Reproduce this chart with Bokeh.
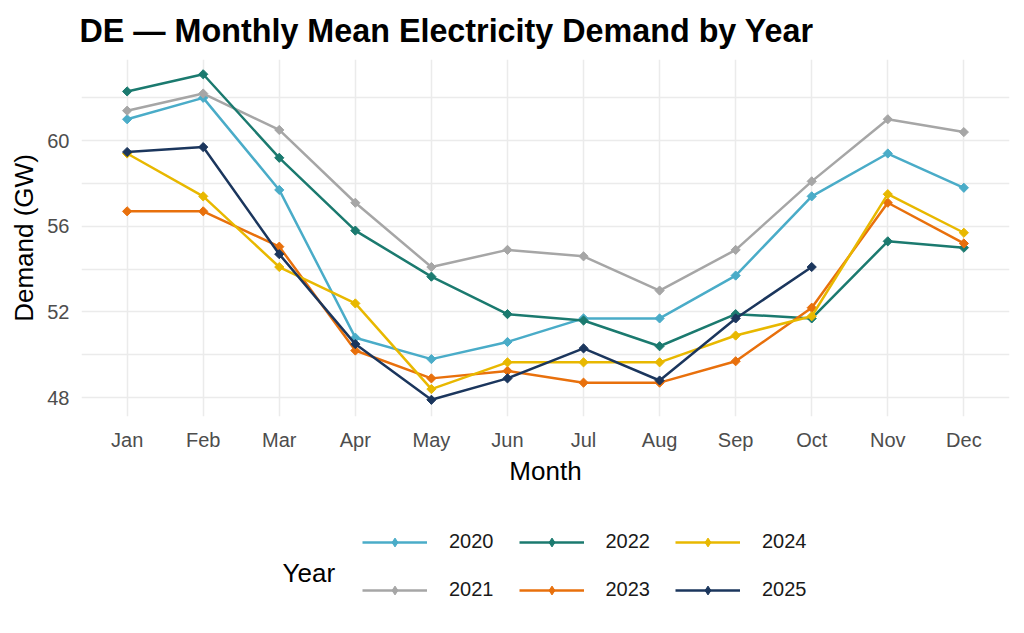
import math
from bokeh.plotting import figure
from bokeh.layouts import column
from bokeh.models import Range1d, FixedTicker, Legend, LegendItem, Label
from bokeh.embed import file_html
from bokeh.resources import INLINE

months = ["Jan", "Feb", "Mar", "Apr", "May", "Jun", "Jul", "Aug", "Sep", "Oct", "Nov", "Dec"]
years = ["2020", "2021", "2022", "2023", "2024", "2025"]

demand_2020 = [61.0, 62.0, 57.7, 50.8, 49.8, 50.6, 51.7, 51.7, 53.7, 57.4, 59.4, 57.8]
demand_2021 = [61.4, 62.2, 60.5, 57.1, 54.1, 54.9, 54.6, 53.0, 54.9, 58.1, 61.0, 60.4]
demand_2022 = [62.3, 63.1, 59.2, 55.8, 53.65, 51.9, 51.6, 50.4, 51.9, 51.7, 55.3, 55.0]
demand_2023 = [56.7, 56.7, 55.05, 50.2, 48.9, 49.25, 48.7, 48.7, 49.7, 52.2, 57.1, 55.2]
demand_2024 = [59.4, 57.4, 54.1, 52.4, 48.4, 49.65, 49.65, 49.65, 50.9, 51.8, 57.5, 55.7]
demand_2025 = [59.47, 59.7, 54.7, 50.5, 47.9, 48.9, 50.3, 48.8, 51.7, 54.1]

series = {
    "2020": demand_2020,
    "2021": demand_2021,
    "2022": demand_2022,
    "2023": demand_2023,
    "2024": demand_2024,
    "2025": demand_2025,
}
colors = {
    "2020": "#4AACC8",
    "2021": "#A6A6A6",
    "2022": "#1B7A6F",
    "2023": "#E8700C",
    "2024": "#E8B800",
    "2025": "#1B365D",
}

y_ticks = [48, 52, 56, 60]
y_minor = [50, 54, 58, 62]

FONT = "Liberation Sans"
GRID = "#EBEBEB"

month_pos = list(range(len(months)))

# ---------------- main chart ----------------
p = figure(
    x_range=Range1d(-0.6, len(months) - 1 + 0.6),
    y_range=Range1d(47.12, 63.79),
    width=1024, height=500,
    min_border_left=81, min_border_right=15, min_border_top=58, min_border_bottom=84,
    output_backend="svg", toolbar_location=None,
)
p.outline_line_color = None
p.background_fill_color = "white"
p.border_fill_color = "white"

p.title.text = "DE — Monthly Mean Electricity Demand by Year"
p.title.text_font = FONT
p.title.text_font_size = "32.3px"
p.title.text_font_style = "bold"
p.title.text_color = "black"
p.title.align = "left"
p.title.offset = -2
p.title.standoff = 21

yt = FixedTicker(ticks=y_ticks, minor_ticks=y_minor)
p.yaxis.ticker = yt
p.ygrid.ticker = yt
xt = FixedTicker(ticks=month_pos, minor_ticks=[])
p.xaxis.ticker = xt
p.xgrid.ticker = xt
p.xaxis.major_label_overrides = {i: m for i, m in enumerate(months)}

for ax in (p.xaxis, p.yaxis):
    ax.axis_line_color = None
    ax.major_tick_line_color = None
    ax.minor_tick_line_color = None
    ax.major_tick_out = 0
    ax.major_tick_in = 0
    ax.minor_tick_out = 0
    ax.minor_tick_in = 0
    ax.major_label_text_font = FONT
    ax.major_label_text_font_size = "20px"
    ax.major_label_text_color = "#4D4D4D"
    ax.axis_label_text_font = FONT
    ax.axis_label_text_font_size = "26px"
    ax.axis_label_text_font_style = "normal"
    ax.axis_label_text_color = "black"

p.yaxis.axis_label = "Demand (GW)"
p.yaxis.major_label_standoff = 12
p.yaxis.axis_label_standoff = 5
p.xaxis.axis_label = "Month"
p.xaxis.major_label_standoff = 12
p.xaxis.axis_label_standoff = 2

p.xgrid.grid_line_color = GRID
p.xgrid.grid_line_width = 1.5
p.ygrid.grid_line_color = GRID
p.ygrid.grid_line_width = 1.5
p.ygrid.minor_grid_line_color = GRID
p.ygrid.minor_grid_line_width = 1.5

for yr in years:
    vals = series[yr]
    xs = month_pos[:len(vals)]
    c = colors[yr]
    p.line(xs, vals, line_color=c, line_width=2.5)
    p.scatter(xs, vals, marker="square", angle=math.pi / 4, size=6.5,
              fill_color=c, line_color=c)

# ---------------- legend strip ----------------
# The same series are drawn here again; they fall outside this strip's
# ranges and are only used as the legend's glyph sources.
q = figure(
    x_range=Range1d(0, 1), y_range=Range1d(0, 1),
    width=1024, height=133, min_border=0,
    x_axis_location=None, y_axis_location=None,
    output_backend="svg", toolbar_location=None,
)
q.outline_line_color = None
q.xgrid.visible = False
q.ygrid.visible = False
q.background_fill_color = "white"
q.border_fill_color = "white"

items = []
for yr in years:
    vals = series[yr]
    xs = month_pos[:len(vals)]
    c = colors[yr]
    lr = q.line(xs, vals, line_color=c, line_width=2.5)
    sr = q.scatter(xs, vals, marker="diamond", size=9,
                   fill_color=c, line_color=c)
    items.append(LegendItem(label=yr, renderers=[lr, sr]))

legend = Legend(items=items, location=(281, 32))
legend.orientation = "vertical"
legend.nrows = 2
legend.ncols = 3
legend.glyph_width = 65
legend.glyph_height = 22
legend.label_standoff = 22
legend.label_width = 42
legend.spacing = 25
legend.padding = 0
legend.margin = 0
legend.border_line_color = None
legend.background_fill_alpha = 0
legend.label_text_font = FONT
legend.label_text_font_size = "20px"
legend.label_text_color = "#1A1A1A"
legend.label_text_baseline = "middle"
q.add_layout(legend, "center")

legend_title = Label(
    x=201, y=61, x_units="screen", y_units="screen", text="Year",
    text_font=FONT, text_font_size="26px", text_color="black",
    text_align="left", text_baseline="middle",
)
q.add_layout(legend_title)

layout = column(p, q, spacing=0)
open("out.html", "w").write(file_html(layout, INLINE))
